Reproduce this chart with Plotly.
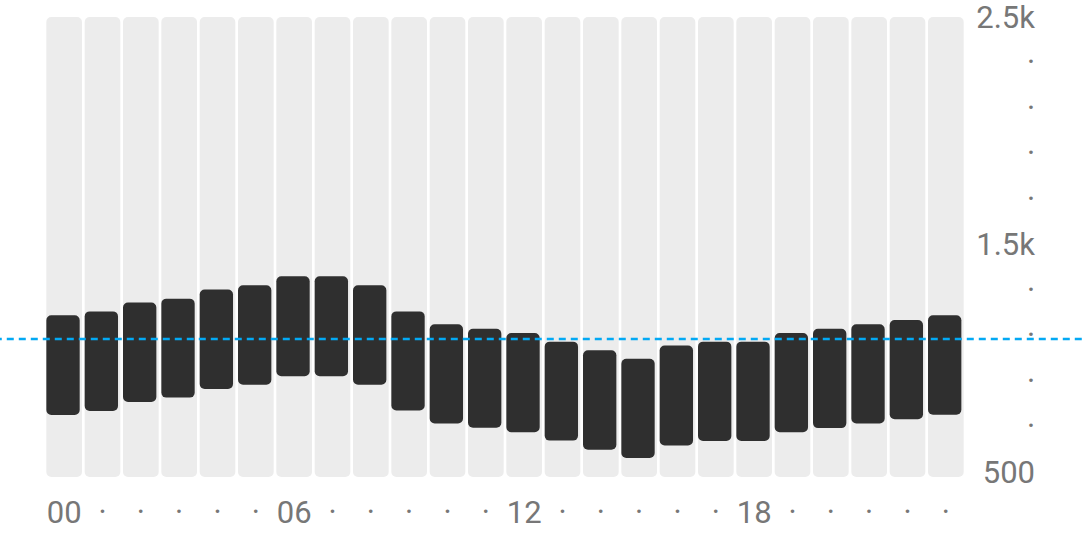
import plotly.graph_objects as go

# ---- data ----
hours = list(range(24))
hour_labels = ["00", "·", "·", "·", "·", "·",
               "06", "·", "·", "·", "·", "·",
               "12", "·", "·", "·", "·", "·",
               "18", "·", "·", "·", "·", "·"]
low = [751, 768, 808, 827, 865, 884, 921, 921, 884, 770, 713, 695,
       675, 638, 598, 562, 617, 636, 636, 675, 693, 713, 732, 752]
high = [1189, 1206, 1245, 1262, 1302, 1321, 1360, 1360, 1321, 1206, 1149, 1130,
        1111, 1073, 1035, 998, 1056, 1073, 1073, 1111, 1130, 1149, 1168, 1189]
reference_value = 1085
y_tick_values = [500, 700, 900, 1100, 1300, 1500, 1700, 1900, 2100, 2300, 2500]
y_tick_labels = ["500", "·", "·", "·", "·", "1.5k", "·", "·", "·", "·", "2.5k"]
y_min, y_max = 478, 2500

# ---- style ----
BG = "#ececec"
DARK = "#2f2f2f"
TEXT = "#777777"
BLUE = "#03a9f4"
FONT = "Roboto"
FS = 31
R = 5

fig = go.Figure()

fig.add_bar(x=hours, y=[y_max - y_min] * 24, base=[y_min] * 24,
            marker=dict(color=BG, cornerradius=R, line=dict(width=0)),
            width=0.93, offset=-0.465, hoverinfo="skip", showlegend=False)
fig.add_bar(x=hours, y=[h - l for h, l in zip(high, low)], base=low,
            marker=dict(color=DARK, cornerradius=R, line=dict(width=0)),
            width=0.87, offset=-0.465, hoverinfo="skip", showlegend=False)

fig.add_shape(type="line", xref="paper", yref="y",
              x0=-0.06, x1=1.05, y0=reference_value, y1=reference_value,
              line=dict(color=BLUE, width=2.5, dash="7px,5px"))

L = 45
W = 1082 - L
fig.update_layout(
    width=1082, height=536,
    margin=dict(l=L, r=0, t=17, b=59, autoexpand=False),
    paper_bgcolor="white", plot_bgcolor="white",
    barmode="overlay",
    hovermode=False,
    font=dict(family=FONT, color=TEXT, size=FS),
    xaxis=dict(domain=[0, 920 / W], range=[-0.5, 23.5], automargin=False,
               tickmode="array", tickvals=hours, ticktext=hour_labels,
               showgrid=False, zeroline=False, showline=False, ticks="",
               ticklabelstandoff=14, ticklabeloverflow="allow",
               tickfont=dict(family=FONT, size=FS, color=TEXT)),
    yaxis=dict(range=[y_min, y_max], anchor="free", side="left", automargin=False,
               position=(1035 - L) / W, ticklabeloverflow="allow",
               tickmode="array", tickvals=y_tick_values, ticktext=y_tick_labels,
               showgrid=False, zeroline=False, showline=False, ticks="",
               tickfont=dict(family=FONT, size=FS, color=TEXT)),
)

fig.write_html("out.html",
               config={"displayModeBar": False},
               post_script="document.body.style.margin='0px';")
